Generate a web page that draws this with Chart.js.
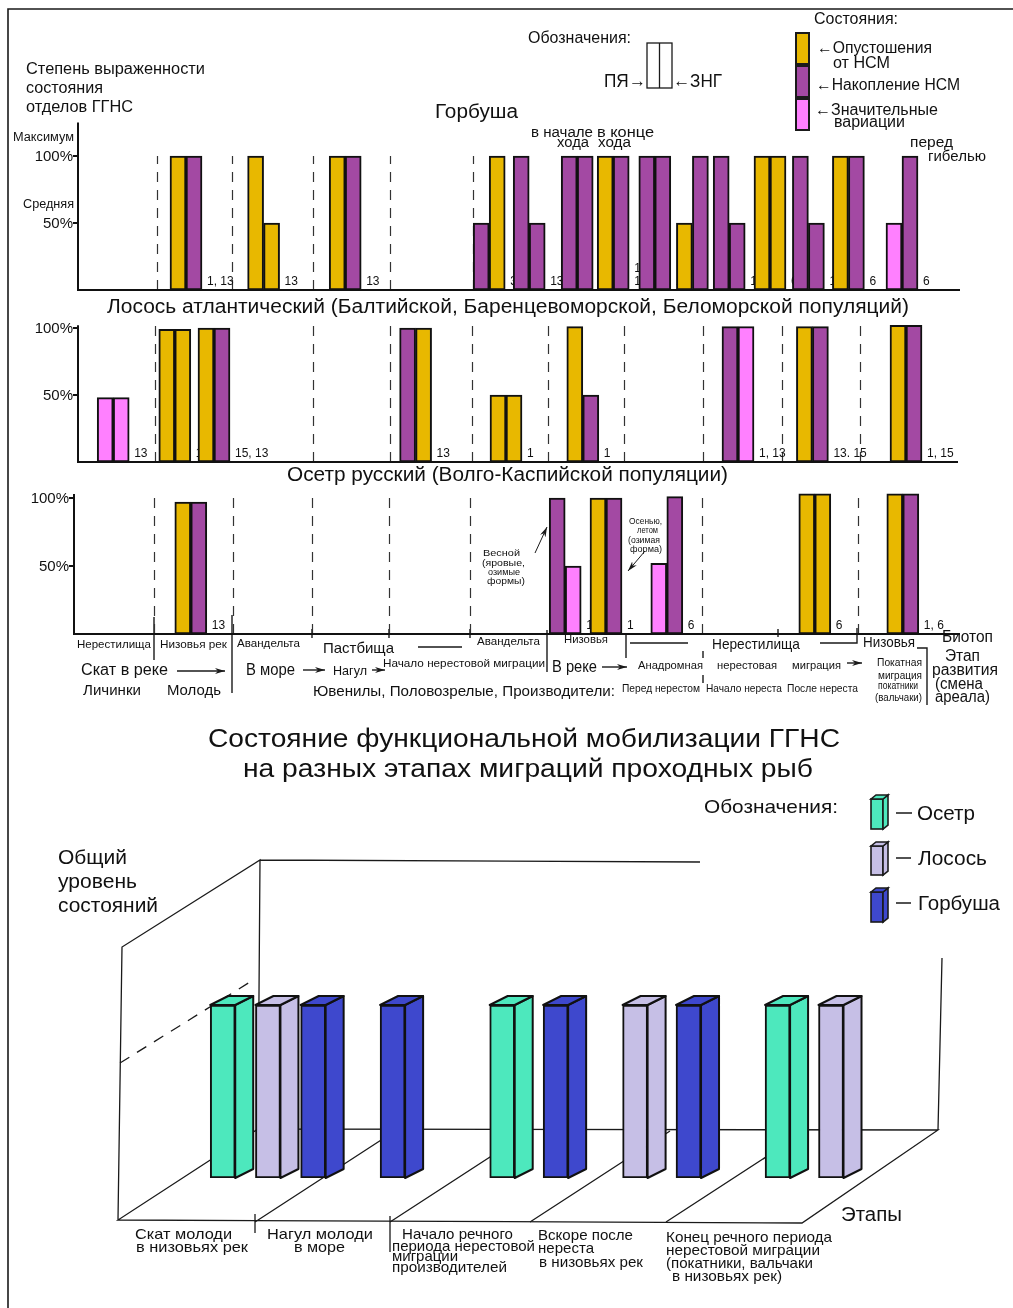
<!DOCTYPE html>
<html>
<head>
<meta charset="utf-8">
<script src="https://cdn.jsdelivr.net/npm/chart.js@4.4.1/dist/chart.umd.min.js"></script>
<style>
    body { margin: 0; background: #fff; }
    #page { position: relative; width: 1013px; height: 1308px; overflow: hidden; background: #fff; font-family: 'Liberation Sans', Arial, sans-serif; color: #111; }
    #page canvas { position: absolute; left: 0; }
    #deco { position: absolute; left: 0; top: 0; }
    #txt { position: absolute; left: 0; top: 0; width: 1013px; height: 1308px; }
    .t { position: absolute; white-space: pre; transform-origin: 0 50%; }
</style>
</head>
<body>
<div id="page">
<svg id="deco" width="1013" height="1308" stroke="#1a1a1a" stroke-width="1.4" fill="none">
    <defs>
        <marker id="ah" viewBox="0 0 10 6" refX="10" refY="3" markerWidth="10" markerHeight="6" markerUnits="userSpaceOnUse" orient="auto">
            <path d="M0,0 L10,3 L0,6 L3,3z" fill="#1a1a1a" stroke="none"/>
        </marker>
    </defs>
    <!-- frame -->
    <path d="M8,1308 L8,9 L1013,9" stroke-width="1.6"/>
    <!-- ПЯ / ЗНГ sign -->
    <rect x="647" y="43" width="25" height="45" stroke-width="1.3"/>
    <path d="M659.5,43 V88" stroke-width="1.3"/>
    <!-- states legend -->
    <rect x="796" y="33" width="13" height="31" fill="#E8B800" stroke-width="2"/>
    <rect x="796" y="66" width="13" height="31" fill="#A349A3" stroke-width="2"/>
    <rect x="796" y="99" width="13" height="31" fill="#FF80FF" stroke-width="2"/>
    <!-- lines under the sturgeon panel -->
    <path d="M418,647 H462 M630,643 H688 M820,643 H857 V628 M917,648 H927 V705"/>
    <path d="M154,617 V660 M232,615 V693 M547,630 V672 M626,633 V658 M703,651 V658 M703,675 V683"/>
    <path d="M312,629 V638 M389,629 V638 M470,629 V638 M778,629 V637"/>
    <g marker-end="url(#ah)">
        <path d="M177,671 H225"/>
        <path d="M303,670 H325"/>
        <path d="M372,670 H385"/>
        <path d="M602,667 H627"/>
        <path d="M847,663 H862"/>
        <path d="M535,553 L547,527" stroke-width="1"/>
        <path d="M645,551 L628,571" stroke-width="1"/>
    </g>
    <!-- 3D frame -->
    <path d="M118,1220 L802,1223 L938,1130 L258,1129 Z M118,1220 L122,947 L260,860 L258,1129 M260,860 L700,862 M938,1130 L942,958" stroke-width="1.3"/>
    <path d="M120,1063 L250,982" stroke-width="1.3" stroke-dasharray="11 9"/>
    <path d="M255,1222 L395,1131 M390,1222 L530,1131 M530,1222 L670,1131 M666,1222 L806,1131" stroke-width="1.3"/>
    <path d="M255,1214 V1233 M390,1216 V1252" stroke-width="1.3"/>
    <!-- 3D legend -->
    <g stroke-width="1.6">
        <rect x="871" y="799" width="12" height="30" fill="#4DE8BD"/>
        <polygon points="883,799 888,795 888,825 883,829" fill="#4DE8BD"/>
        <polygon points="871,799 876,795 888,795 883,799" fill="#4DE8BD"/>
        <rect x="871" y="846" width="12" height="29" fill="#C6BFE6"/>
        <polygon points="883,846 888,842 888,871 883,875" fill="#C6BFE6"/>
        <polygon points="871,846 876,842 888,842 883,846" fill="#C6BFE6"/>
        <rect x="871" y="892" width="12" height="30" fill="#3E48CD"/>
        <polygon points="883,892 888,888 888,918 883,922" fill="#3E48CD"/>
        <polygon points="871,892 876,888 888,888 883,892" fill="#3E48CD"/>
    </g>
    <path d="M896,813 H912 M896,858 H911 M896,903 H911" stroke-width="1.3"/>
</svg>
<canvas id="gorb" width="1013" height="200" style="top:100px"></canvas>
<canvas id="losos" width="1013" height="175" style="top:300px"></canvas>
<canvas id="osetr" width="1013" height="180" style="top:470px"></canvas>
<canvas id="total" width="1013" height="400" style="top:840px"></canvas>
<div id="txt"></div>
</div>
<script>
// ---- data ----
// states: О – опустошения от НСМ, Н – накопление НСМ, В – значительные вариации
const speciesTitles = ['Горбуша', 'Лосось атлантический (Балтийской, Баренцевоморской, Беломорской популяций)', 'Осетр русский (Волго-Каспийской популяции)'];
const percentTicks = [50, 100];

// positions along the migration axis, in bar widths from the value axis
const gorbPos = [6.75, 11.6, 16.7, 25.7, 28.2, 31.2, 33.45, 36.05, 38.4, 40.7, 43.25, 45.65, 48.15, 51.5];
const gorbPya = [100, 100, 100, 50, 100, 100, 100, 100, 50, 100, 100, 100, 100, 50];
const gorbZng = [100, 50, 100, 100, 50, 100, 100, 100, 100, 50, 100, 50, 100, 100];
const gorbPyaState = ['О', 'О', 'О', 'Н', 'Н', 'Н', 'О', 'Н', 'О', 'Н', 'О', 'Н', 'О', 'В'];
const gorbZngState = ['Н', 'О', 'Н', 'О', 'Н', 'Н', 'Н', 'Н', 'Н', 'Н', 'О', 'Н', 'Н', 'Н'];
const gorbRefs = ['1, 13', '13', '13', '3', '13', '1', '1,\n10', '10', '6', '10', '6', '10', '6', '6'];
const gorbBounds = [4.95, 9.6, 14.7, 19.5, 24.7];

const lososPos = [2.2, 6.05, 8.5, 21.1, 26.75, 31.55, 41.25, 45.9, 51.75];
const lososPya = [48, 99, 100, 100, 50, 101, 101, 101, 102];
const lososZng = [48, 99, 100, 100, 50, 50, 101, 101, 102];
const lososPyaState = ['В', 'О', 'О', 'Н', 'О', 'О', 'Н', 'О', 'О'];
const lososZngState = ['В', 'О', 'Н', 'О', 'О', 'Н', 'В', 'Н', 'Н'];
const lososRefs = ['13', '1', '15, 13', '13', '1', '1', '1, 13', '13. 15', '1, 15'];
const lososBounds = [4.8, 14.7, 19.5, 24.6, 29.4, 34.1, 39.05, 44, 48.9];

const osetrPos = [7.3, 30.7, 33.25, 37.05, 46.3, 51.8];
const osetrPya = [97, 100, 100, 52, 103, 103];
const osetrZng = [97, 50, 100, 101, 103, 103];
const osetrPyaState = ['О', 'Н', 'О', 'В', 'О', 'О'];
const osetrZngState = ['Н', 'В', 'Н', 'Н', 'О', 'Н'];
const osetrRefs = ['13', '1', '1', '6', '6', '1, 6'];
const osetrBounds = [5, 9.95, 14.9, 19.7, 24.75, 39.25, 49];

// summary chart: position = stage index + place inside the stage
const stages = ['Скат молоди\nв низовьях рек', 'Нагул молоди\nв море', 'Начало речного\nпериода нерестовой\nмиграции\nпроизводителей', 'Вскоре после\nнереста\nв низовьях рек', 'Конец речного периода\nнерестовой миграции\n(покатники, вальчаки\nв низовьях рек)'];
const fish = ['Осетр', 'Лосось', 'Горбуша'];
const osetrStagePos = [0.29, 2.33, 4.34];
const osetrLevel = [100, 100, 100];
const lososStagePos = [0.62, 3.30, 4.73];
const lososLevel = [100, 100, 100];
const gorbStagePos = [0.95, 1.53, 2.72, 3.69];
const gorbLevel = [100, 100, 100, 100];

// ---- drawing ----
const PAGE_W = 1013;
const BAR_W = 16;
const FONT = '"Liberation Sans", Arial, sans-serif';
const STATE_COLOR = { 'О': '#E8B800', 'Н': '#A349A3', 'В': '#FF80FF' };
const FISH_COLOR = ['#4DE8BD', '#C6BFE6', '#3E48CD'];

function decor(cfg) {
    return {
        id: 'panelDecor',
        beforeDatasetsDraw(chart) {
            const { ctx, scales: { x, y } } = chart;
            const y0 = y.getPixelForValue(0);
            ctx.save();
            ctx.strokeStyle = '#333';
            ctx.lineWidth = 1.2;
            ctx.setLineDash([10, 8]);
            cfg.bounds.forEach((b) => {
                const px = Math.round(x.getPixelForValue(b)) + 0.5;
                ctx.beginPath();
                ctx.moveTo(px, y0);
                ctx.lineTo(px, y.getPixelForValue(cfg.divTop));
                ctx.stroke();
            });
            ctx.setLineDash([]);
            ctx.fillStyle = '#111';
            ctx.font = '12px ' + FONT;
            const bars = chart.getDatasetMeta(1).data;
            cfg.refs.forEach((ref, i) => {
                const el = bars[i];
                const px = el.x + el.width / 2 + 5;
                ref.split('\n').reverse().forEach((line, k) => ctx.fillText(line, px, y0 - 5 - k * 13));
            });
            ctx.restore();
        },
        afterDatasetsDraw(chart) {
            const { ctx, chartArea, scales: { x, y } } = chart;
            const y0 = y.getPixelForValue(0);
            ctx.save();
            ctx.strokeStyle = '#111';
            ctx.lineWidth = 2;
            ctx.beginPath();
            ctx.moveTo(chartArea.left, y.getPixelForValue(cfg.axisTop));
            ctx.lineTo(chartArea.left, y0);
            ctx.lineTo(chartArea.right, y0);
            percentTicks.forEach((v) => {
                const py = y.getPixelForValue(v);
                ctx.moveTo(chartArea.left - 5, py);
                ctx.lineTo(chartArea.left, py);
            });
            ctx.stroke();
            ctx.fillStyle = '#111';
            ctx.font = '15px ' + FONT;
            ctx.textAlign = 'right';
            ctx.textBaseline = 'middle';
            percentTicks.forEach((v) => ctx.fillText(`${v}%`, chartArea.left - 5, y.getPixelForValue(v) + 1));
            ctx.restore();
        },
    };
}

function panel(id, cfg) {
    const canvas = document.getElementById(id);
    const top = parseFloat(canvas.style.top);
    const padding = {
        left: cfg.left,
        right: PAGE_W - cfg.right,
        top: cfg.base - cfg.px100 * cfg.yMax / 100 - top,
        bottom: top + canvas.height - cfg.base,
    };
    const dataset = (label, values, st) => ({
        label,
        data: cfg.pos.map((x, i) => ({ x, y: values[i] })),
        backgroundColor: st.map((s) => STATE_COLOR[s]),
        borderColor: '#111',
        borderWidth: 2,
        borderSkipped: false,
        barThickness: BAR_W,
    });
    return new Chart(canvas, {
        type: 'bar',
        data: { datasets: [dataset('ПЯ', cfg.pya, cfg.pyaState), dataset('ЗНГ', cfg.zng, cfg.zngState)] },
        options: {
            responsive: false,
            animation: false,
            events: [],
            layout: { padding },
            scales: {
                x: { type: 'linear', display: false, offset: false, min: 0, max: (cfg.right - cfg.left) / BAR_W },
                y: { display: false, min: 0, max: cfg.yMax },
            },
            plugins: { legend: { display: false }, tooltip: { enabled: false } },
        },
        plugins: [decor(cfg)],
    });
}

panel('gorb', { pos: gorbPos, pya: gorbPya, zng: gorbZng, pyaState: gorbPyaState, zngState: gorbZngState, refs: gorbRefs, bounds: gorbBounds,
    left: 78, right: 960, base: 290, px100: 134, yMax: 125, axisTop: 125, divTop: 100 });
panel('losos', { pos: lososPos, pya: lososPya, zng: lososZng, pyaState: lososPyaState, zngState: lososZngState, refs: lososRefs, bounds: lososBounds,
    left: 78, right: 958, base: 462, px100: 134, yMax: 110, axisTop: 102, divTop: 102 });
panel('osetr', { pos: osetrPos, pya: osetrPya, zng: osetrZng, pyaState: osetrPyaState, zngState: osetrZngState, refs: osetrRefs, bounds: osetrBounds,
    left: 74, right: 960, base: 634, px100: 136, yMax: 110, axisTop: 103, divTop: 102 });

// 3D faces on top of the library's bars
const DEPTH = { dx: 18, dy: -9 };
const bars3d = {
    id: 'bars3d',
    afterDatasetsDraw(chart) {
        const { ctx } = chart;
        const { dx, dy } = DEPTH;
        const face = (pts) => {
            ctx.beginPath();
            pts.forEach(([px, py], i) => (i ? ctx.lineTo(px, py) : ctx.moveTo(px, py)));
            ctx.closePath();
            ctx.fill();
            ctx.stroke();
        };
        ctx.save();
        ctx.strokeStyle = '#111';
        ctx.lineWidth = 2;
        ctx.lineJoin = 'round';
        chart.data.datasets.forEach((ds, di) => {
            ctx.fillStyle = ds.backgroundColor;
            chart.getDatasetMeta(di).data.forEach((el) => {
                const l = el.x - el.width / 2, r = el.x + el.width / 2, t = el.y, b = el.base;
                face([[r, t], [r + dx, t + dy], [r + dx, b + dy], [r, b]]);
                face([[l, t], [l + dx, t + dy], [r + dx, t + dy], [r, t]]);
            });
        });
        ctx.restore();
    },
};

(function () {
    const canvas = document.getElementById('total');
    const top = parseFloat(canvas.style.top);
    const base = 1178, px100 = 173, yMax = 180, left = 183, stageW = 137;
    const series = [[osetrStagePos, osetrLevel], [lososStagePos, lososLevel], [gorbStagePos, gorbLevel]];
    new Chart(canvas, {
        type: 'bar',
        data: {
            datasets: series.map(([pos, lvl], i) => ({
                label: fish[i],
                data: pos.map((x, k) => ({ x, y: lvl[k] })),
                backgroundColor: FISH_COLOR[i],
                borderColor: '#111',
                borderWidth: 2,
                borderSkipped: false,
                barThickness: 25,
                grouped: false,
            })),
        },
        options: {
            responsive: false,
            animation: false,
            events: [],
            layout: { padding: { left, right: PAGE_W - left - stageW * stages.length, top: base - px100 * yMax / 100 - top, bottom: top + canvas.height - base } },
            scales: {
                x: { type: 'linear', display: false, offset: false, min: 0, max: stages.length },
                y: { display: false, min: 0, max: yMax },
            },
            plugins: { legend: { display: false }, tooltip: { enabled: false } },
        },
        plugins: [bars3d],
    });
})();

// ---- text ----
const txt = document.getElementById('txt');
function put(text, x, yc, fs, w) {
    const el = document.createElement('div');
    el.className = 't';
    el.textContent = text;
    el.style.left = x + 'px';
    el.style.top = (yc - fs / 2) + 'px';
    el.style.fontSize = fs + 'px';
    el.style.lineHeight = fs + 'px';
    txt.appendChild(el);
    if (w) el.style.transform = `scaleX(${w / el.getBoundingClientRect().width})`;
}

[
    ['Степень выраженности', 26, 69, 16, 179],
    ['состояния', 26, 88, 16, 77],
    ['отделов ГГНС', 26, 107, 16, 107],
    ['Максимум', 13, 137, 12, 61],
    ['Средняя', 23, 204, 12, 51],
    [speciesTitles[0], 435, 111, 20, 83],
    ['Обозначения:', 528, 38, 16, 103],
    ['ПЯ→', 604, 80, 19, 42],
    ['←ЗНГ', 673, 80, 19, 49],
    ['Состояния:', 814, 19, 16, 84],
    ['←Опустошения', 817, 48, 16, 115],
    ['от НСМ', 833, 63, 16, 57],
    ['←Накопление НСМ', 816, 85, 16, 144],
    ['←Значительные', 815, 110, 16, 123],
    ['вариации', 834, 122, 16, 71],
    ['в начале', 531, 132, 14, 62],
    ['хода', 557, 142, 14, 32],
    ['в конце', 597, 132, 14, 57],
    ['хода', 598, 142, 14, 33],
    ['перед', 910, 141, 15, 43],
    ['гибелью', 928, 155, 15, 58],
    [speciesTitles[1], 107, 306, 20, 802],
    [speciesTitles[2], 287, 474, 20, 441],
    ['Весной', 483, 553, 9, 37], ['(яровые,', 482, 563, 9, 43], ['озимые', 488, 572, 9, 32], ['формы)', 487, 581, 9, 38],
    ['Осенью,', 629, 521, 9, 33], ['летом', 637, 530, 9, 21], ['(озимая', 628, 540, 9, 32], ['форма)', 630, 549, 9, 32],
    ['Нерестилища', 77, 644, 11, 74],
    ['Низовья рек', 160, 644, 11, 67],
    ['Авандельта', 237, 643, 11, 63],
    ['Пастбища', 323, 647, 15, 71],
    ['Авандельта', 477, 641, 11, 63],
    ['Низовья', 564, 639, 11, 44],
    ['Нерестилища', 712, 643, 15, 88],
    ['Низовья', 863, 642, 14, 52],
    ['Биотоп', 942, 637, 16, 51],
    ['Скат в реке', 81, 670, 16, 87],
    ['В море', 246, 670, 16, 49],
    ['Нагул', 333, 670, 13, 34],
    ['Начало нерестовой миграции', 383, 663, 11, 162],
    ['В реке', 552, 667, 16, 45],
    ['Анадромная', 638, 666, 11.5, 65],
    ['нерестовая', 717, 666, 11.5, 60],
    ['миграция', 792, 666, 11.5, 49],
    ['Покатная', 877, 663, 10, 45],
    ['миграция', 878, 676, 10, 44],
    ['Этап', 945, 656, 16, 35],
    ['развития', 932, 670, 16, 66],
    ['(смена', 935, 684, 16, 48],
    ['ареала)', 935, 697, 16, 55],
    ['Личинки', 83, 690, 14, 58],
    ['Молодь', 167, 690, 14, 54],
    ['Ювенилы, Половозрелые, Производители:', 313, 690, 15, 302],
    ['Перед нерестом', 622, 688, 10.5, 78],
    ['Начало нереста', 706, 688, 10.5, 76],
    ['После нереста', 787, 688, 10.5, 71],
    ['покатники', 878, 686, 10, 40],
    ['(вальчаки)', 875, 698, 10, 47],
    ['Состояние функциональной мобилизации ГГНС', 208, 738, 25, 632],
    ['на разных этапах миграций проходных рыб', 243, 768, 25, 570],
    ['Обозначения:', 704, 806, 19, 134],
    [fish[0], 917, 813, 20, 58],
    [fish[1], 918, 858, 20, 69],
    [fish[2], 918, 903, 20, 82],
    ['Общий', 58, 857, 20, 69],
    ['уровень', 58, 881, 20, 79],
    ['состояний', 58, 905, 20, 100],
    ['Этапы', 841, 1214, 20, 61],
].forEach((a) => put(...a));

// stage captions under the 3D floor: [x, y, width] for every line
const stageLines = [
    [[135, 1233, 97], [136, 1246, 112]],
    [[267, 1233, 106], [294, 1246, 51]],
    [[402, 1233, 111], [392, 1245, 143], [392, 1255, 66], [392, 1266, 115]],
    [[538, 1234, 95], [538, 1247, 56], [539, 1261, 104]],
    [[666, 1236, 166], [666, 1249, 154], [666, 1262, 147], [672, 1275, 110]],
];
stages.forEach((s, i) => s.split('\n').forEach((line, k) => {
    const [x, y, w] = stageLines[i][k];
    put(line, x, y, 15, w);
}));
</script>
</body>
</html>
